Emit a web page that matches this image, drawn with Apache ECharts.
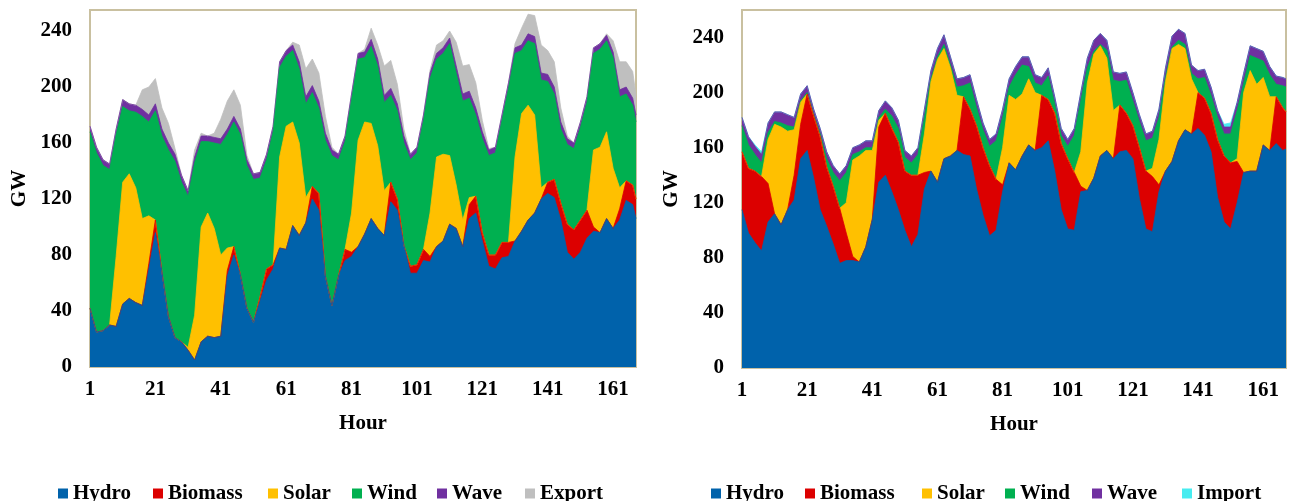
<!DOCTYPE html>
<html><head><meta charset="utf-8">
<script src="https://cdn.jsdelivr.net/npm/echarts@6/dist/echarts.min.js"></script>
<style>html,body{margin:0;padding:0;background:#fff}#c{width:1291px;height:501px}</style>
</head><body><div id="c"></div>
<script>
// Hour of each sample (x values)
const hours = [1,3,5,7,9,11,13,15,17,19,21,23,25,27,29,31,33,35,37,39,41,43,45,47,49,51,53,55,57,59,61,63,65,67,69,71,73,75,77,79,81,83,85,87,89,91,93,95,97,99,101,103,105,107,109,111,113,115,117,119,121,123,125,127,129,131,133,135,137,139,141,143,145,147,149,151,153,155,157,159,161,163,165,167,168];

// ---- Left chart (with Export), GW ----
const hydroL = [42,25,26,30,29,45,49,46,44,70, 96,68,36,21,18,12,5,18,22,21, 22,65,80,66,42,32,47,62,70,85, 84,101,94,103,120,112,65,44,65,76, 79,86,95,106,99,94,118,112,87,67, 67,76,75,86,90,102,99,86,106,110, 90,72,70,78,79,90,97,105,110,120, 124,121,105,82,77,82,92,97,96,106, 99,105,119,116,106];
const biomassL = [0,0,0,0,0,0,0,0,0,4, 9,0,0,0,0,0,0,0,0,0, 0,4,6,0,0,0,3,8,3,0, 0,0,0,0,9,12,0,0,0,8, 3,0,0,0,0,0,14,8,0,5, 6,8,4,0,0,0,0,0,10,12, 6,8,10,11,10,0,0,0,0,0, 8,13,12,20,21,23,20,3,0,0, 0,8,14,14,14];
const solarL = [0,0,0,0,50,87,89,82,62,34, 0,0,0,0,0,2,32,82,88,78, 58,16,0,0,0,0,0,0,0,65, 88,74,66,18,0,0,0,0,0,0, 28,76,80,68,59,32,0,0,0,0, 0,0,31,64,62,49,31,19,5,0, 0,0,0,0,0,60,84,82,70,8, 0,0,0,0,0,0,0,55,61,62, 43,15,0,0,0];
const windL = [126,128,118,111,87,54,45,54,73,67, 78,97,119,126,114,108,109,61,51,61, 79,81,89,100,102,102,85,78,95,64, 50,51,53,67,67,61,97,107,83,77, 81,58,46,55,57,63,62,63,73,76, 80,92,96,70,72,80,80,85,71,58, 67,71,73,87,110,74,45,46,51,77, 72,61,53,57,58,66,77,69,70,65, 79,65,62,57,55];
const waveL = [4,4,4,4,4,5,5,5,5,5, 5,5,5,5,5,4,4,4,4,4, 4,4,4,4,4,4,4,4,4,4, 4,4,5,5,5,5,5,4,4,4, 4,4,4,5,5,5,5,5,5,4, 4,4,4,4,4,4,5,5,5,5, 5,4,4,4,4,4,4,5,5,5, 5,5,5,4,4,4,4,4,4,4, 4,5,5,5,5];
const exportL = [0,0,0,0,0,0,0,0,14,20, 18,15,14,4,0,0,5,2,0,3, 14,20,19,17,3,0,0,0,0,0, 0,2,12,20,19,20,12,2,0,0, 0,0,2,8,10,21,20,14,5,0, 0,0,2,6,5,5,17,20,19,18, 8,1,0,0,0,3,12,14,15,20, 17,18,10,2,0,0,0,0,0,1, 8,20,18,19,14];

// ---- Right chart (with Import), GW ----
const hydroR = [115,98,91,85,106,112,104,115,122,152, 158,138,115,103,90,76,78,78,77,88, 108,135,140,128,115,100,88,97,130,143, 135,152,154,158,155,154,130,111,96,100, 128,149,144,154,162,158,160,165,143,115, 101,100,128,129,138,154,158,152,157,158, 152,123,101,99,128,143,150,165,173,170, 174,169,157,124,106,101,120,142,143,143, 162,158,163,158,159];
const biomassR = [42,47,52,54,28,0,0,0,18,25, 41,45,53,43,42,40,20,3,0,0, 0,40,45,46,49,43,52,43,12,0, 0,0,0,0,42,34,46,49,51,37, 5,0,0,0,0,0,38,30,42,48, 51,42,4,0,0,0,0,0,34,27, 24,37,42,40,5,0,0,0,0,0, 26,27,28,42,48,48,30,0,0,0, 0,0,34,31,27];
const solarR = [0,0,0,0,32,65,71,57,33,16, 0,0,0,0,0,0,22,70,77,70, 50,5,0,0,0,0,0,0,28,65, 89,80,64,40,0,0,0,0,0,0, 27,49,51,45,48,42,0,0,0,0, 0,0,25,78,90,80,67,35,0,0, 0,0,0,6,33,65,82,70,59,40, 0,0,0,0,0,0,2,58,73,63, 49,39,0,0,0];
const windR = [19,17,12,10,5,2,3,4,2,1, 1,1,2,6,10,20,22,4,3,2, 2,2,3,9,10,10,9,15,12,2, 2,3,2,6,8,19,13,13,14,28, 22,6,18,21,9,7,7,17,7,6, 9,27,37,11,2,1,6,22,17,24, 18,19,22,22,16,3,1,3,3,4, 10,15,13,16,16,21,35,7,11,19, 12,16,9,16,18];
const waveR = [6,6,6,6,7,7,8,8,7,5, 5,4,4,5,5,5,5,5,5,5, 5,5,6,6,6,5,5,5,6,6, 6,7,6,6,6,6,6,5,5,5, 6,6,6,6,7,6,6,6,5,5, 5,5,6,7,8,8,7,6,6,6, 6,5,5,5,6,7,8,8,8,6, 6,6,6,5,5,5,6,7,7,7, 7,6,6,6,6];
const importR = [0,0,1,2,0,0,0,0,0,0, 0,0,0,0,0,0,0,0,0,0, 0,0,0,0,0,0,0,0,0,0, 0,0,0,0,0,0,0,0,0,0, 0,0,0,0,0,0,0,0,0,0, 0,0,0,0,0,0,0,0,0,0, 0,0,0,0,0,0,0,0,0,0, 0,0,0,0,2,3,0,0,0,0, 0,0,0,0,0];

const leftNames = ['Hydro','Biomass','Solar','Wind','Wave','Export'];
const rightNames = ['Hydro','Biomass','Solar','Wind','Wave','Import'];
const colors = {Hydro:'#0062ab', Biomass:'#dc0000', Solar:'#ffc000', Wind:'#00b050', Wave:'#7030a0', Export:'#bfbfbf', Import:'#47ecf0'};
// left edge of each legend entry (px)
const leftLegendX = [53, 148, 263, 347, 432, 520];
const rightLegendX = [706, 800, 917, 1000, 1087, 1177];

const FONT = 'Liberation Serif';
const txt = {color:'#000', fontFamily:FONT, fontWeight:'bold', fontSize:21};

// Stack the layers (bottom to top) and draw each cumulative band, top band first
function stackedSeries(names, arrays, idx) {
  const cum = [];
  let run = hours.map(() => 0);
  arrays.forEach(arr => { run = run.map((v, i) => v + arr[i]); cum.push(run.slice()); });
  const out = [];
  for (let k = names.length - 1; k >= 0; k--) {
    const c = colors[names[k]];
    out.push({
      name: names[k], type:'line', xAxisIndex:idx, yAxisIndex:idx,
      data: hours.map((h, i) => [h, cum[k][i]]),
      symbol:'none', showSymbol:false, smooth:false,
      lineStyle:{width:0.8, color:c}, itemStyle:{color:c},
      areaStyle:{color:c, opacity:1, origin:'start'}, emphasis:{disabled:true}
    });
  }
  return out;
}
function xAx(idx) {
  return {type:'value', gridIndex:idx, min:1, max:168, interval:20,
    axisLine:{show:false}, axisTick:{show:false}, splitLine:{show:false},
    axisLabel:Object.assign({margin:12, formatter: v => ((v-1)%20===0 ? String(v) : '')}, txt),
    name:'Hour', nameLocation:'middle', nameGap:46, nameTextStyle:txt};
}
function yAx(idx, max) {
  return {type:'value', gridIndex:idx, min:0, max:max, interval:40,
    axisLine:{show:false}, axisTick:{show:false}, splitLine:{show:false},
    axisLabel:Object.assign({margin:18, formatter: v => (v%40===0 ? String(v) : '')}, txt),
    name:'GW', nameLocation:'middle', nameGap:60, nameRotate:90, nameTextStyle:txt};
}
function legends(names, xs) {
  return names.map((n, i) => ({data:[n], left:xs[i], top:478, icon:'rect', itemWidth:10, itemHeight:10,
    textStyle:txt, selectedMode:false}));
}
const gridStyle = {show:true, borderColor:'#c9c0a0', borderWidth:2, backgroundColor:'#fff'};
const option = {
  animation:false,
  backgroundColor:'#fff',
  grid:[
    Object.assign({left:90, top:10, width:546, height:357}, gridStyle),
    Object.assign({left:742, top:10, width:544, height:358}, gridStyle)
  ],
  xAxis:[xAx(0), xAx(1)],
  yAxis:[yAx(0,255), yAx(1,260)],
  legend: legends(leftNames, leftLegendX).concat(legends(rightNames, rightLegendX)),
  series: [].concat(
    stackedSeries(leftNames, [hydroL, biomassL, solarL, windL, waveL, exportL], 0),
    stackedSeries(rightNames, [hydroR, biomassR, solarR, windR, waveR, importR], 1)
  )
};
const chart = echarts.init(document.getElementById('c'));
chart.setOption(option);
</script>
</body></html>
